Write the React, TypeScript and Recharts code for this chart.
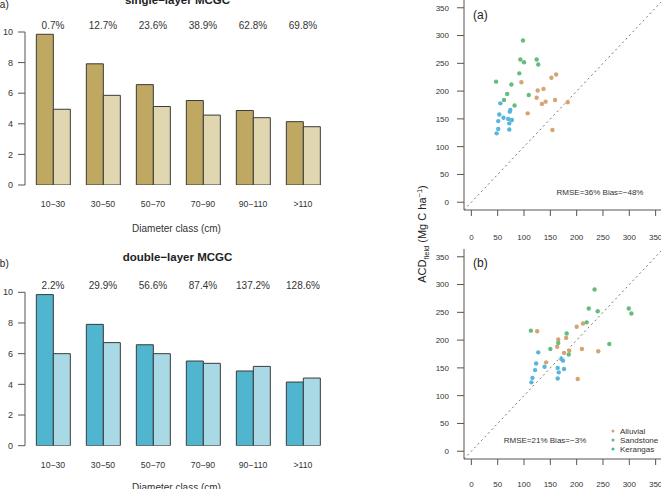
import React from 'react';
import {
  BarChart, Bar, XAxis, YAxis, ScatterChart, Scatter, ReferenceLine, Label,
} from 'recharts';

// ---------- data ----------
const CLASSES = ['10−30', '30−50', '50−70', '70−90', '90−110', '>110'];
const A_DARK = [9.85, 7.92, 6.56, 5.52, 4.87, 4.14];
const A_LIGHT = [4.95, 5.86, 5.13, 4.57, 4.4, 3.81];
const A_PCT = ['0.7%', '12.7%', '23.6%', '38.9%', '62.8%', '69.8%'];
const B_DARK = [9.85, 7.91, 6.58, 5.52, 4.87, 4.15];
const B_LIGHT = [6.0, 6.72, 6.0, 5.37, 5.17, 4.41];
const B_PCT = ['2.2%', '29.9%', '56.6%', '87.4%', '137.2%', '128.6%'];

const ALLUVIAL_FIELD = [216, 201, 204, 224, 230, 188, 177, 181, 184, 180, 160, 130];
const ALLUVIAL_A = [95, 126, 137, 152, 161, 124, 134, 141, 159, 183, 107, 154];
const ALLUVIAL_B = [125, 165, 180, 200, 212, 163, 176, 186, 210, 241, 142, 202];

const SANDSTONE_FIELD = [291, 257, 252, 257, 248, 232, 217, 212, 195, 184, 193, 174];
const SANDSTONE_A = [98, 93, 100, 124, 127, 91, 47, 76, 68, 62, 109, 82];
const SANDSTONE_B = [234, 223, 240, 299, 304, 219, 113, 181, 165, 150, 262, 185];

const KERANGAS_FIELD = [178, 166, 163, 158, 152, 146, 150, 148, 142, 132, 124, 131];
const KERANGAS_A = [55, 74, 73, 53, 61, 51, 70, 77, 72, 51, 48, 72];
const KERANGAS_B = [127, 171, 174, 123, 139, 121, 164, 176, 166, 116, 114, 164];

const BAR_TICKS = [0, 2, 4, 6, 8, 10];
const SC_TICKS = [0, 50, 100, 150, 200, 250, 300, 350];
const LEGEND_LABELS = ['Alluvial', 'Sandstone', 'Kerangas'];
const LEGEND_COLORS = ['#d6a373', '#62b97d', '#3dbaa3'];

const FONT = '"Liberation Sans", Arial, Helvetica, sans-serif';
const AXIS = '#555';
const TXT = '#333';

const COL_ALL = '#d6a373';
const COL_SAND = '#66bb7e';
const COL_KER = '#5ab5db';

const barData = (dark: number[], light: number[]) =>
  CLASSES.map((c, i) => ({ cls: c, dark: dark[i], light: light[i] }));
const pts = (xs: number[], ys: number[]) => xs.map((x, i) => ({ x, y: ys[i] }));

const dataA = barData(A_DARK, A_LIGHT);
const dataB = barData(B_DARK, B_LIGHT);

const Dot = (fill: string) => (p: any) => (
  <circle cx={p.cx} cy={p.cy} r={2.2} fill={fill} />
);

function BarPanel(props: {
  data: any[]; pct: string[]; dark: string; light: string;
  top: number; height: number; marginTop: number; xAxisH: number; labelOffset: number;
}) {
  const { data, pct, dark, light, top, height, marginTop, xAxisH, labelOffset } = props;
  return (
    <div style={{ position: 'absolute', left: 0, top, width: 340, height }}>
      <BarChart
        width={340}
        height={height}
        data={data}
        margin={{ top: marginTop, right: 12, bottom: 0, left: 0 }}
        barCategoryGap="16.67%"
        barGap={0}
        style={{ fontFamily: FONT }}
      >
        <XAxis
          dataKey="cls"
          xAxisId="bottom"
          orientation="bottom"
          height={xAxisH}
          axisLine={false}
          tickLine={false}
          tickSize={0}
          tickMargin={16}
          padding={{ left: 3, right: 0 }}
          interval={0}
          tick={{ fontSize: 8.7, fill: TXT, fontFamily: FONT }}
        >
          <Label
            value="Diameter class (cm)"
            position="insideBottom"
            offset={labelOffset}
            style={{ fontSize: 10, fill: TXT, fontFamily: FONT }}
          />
        </XAxis>
        <XAxis
          dataKey="cls"
          xAxisId="top"
          orientation="top"
          height={20}
          axisLine={false}
          tickLine={false}
          tickSize={0}
          tickMargin={3}
          padding={{ left: 3, right: 0 }}
          interval={0}
          tickFormatter={(_v: any, i: number) => pct[i]}
          tick={{ fontSize: 10, fill: TXT, fontFamily: FONT }}
        />
        <YAxis
          domain={[0, 10]}
          ticks={BAR_TICKS}
          width={25}
          tickSize={7}
          tickMargin={5}
          axisLine={{ stroke: AXIS }}
          tickLine={{ stroke: AXIS }}
          tick={{ fontSize: 9, fill: TXT, fontFamily: FONT }}
          allowDataOverflow
        />
        <Bar xAxisId="bottom" dataKey="dark" fill={dark} stroke="#3a3a3a" strokeWidth={1} isAnimationActive={false} />
        <Bar xAxisId="bottom" dataKey="light" fill={light} stroke="#3a3a3a" strokeWidth={1} isAnimationActive={false} />
      </BarChart>
    </div>
  );
}

function ScatterPanel(props: {
  top: number; height: number; marginTop: number; xAxisH: number; tickMargin: number;
  all: any[]; sand: any[]; ker: any[];
}) {
  const { top, height, marginTop, xAxisH, tickMargin, all, sand, ker } = props;
  return (
    <div style={{ position: 'absolute', left: 400, top, width: 263, height }}>
      <ScatterChart
        width={263}
        height={height}
        margin={{ top: marginTop, right: 0, bottom: 0, left: 0 }}
        style={{ fontFamily: FONT }}
      >
        <XAxis
          type="number"
          dataKey="x"
          domain={[-14, 364]}
          ticks={SC_TICKS}
          allowDataOverflow
          height={xAxisH}
          tickSize={6}
          tickMargin={tickMargin}
          axisLine={{ stroke: AXIS }}
          tickLine={{ stroke: AXIS }}
          tick={{ fontSize: 8, fill: TXT, fontFamily: FONT }}
        />
        <YAxis
          type="number"
          dataKey="y"
          domain={[-14, 364]}
          ticks={SC_TICKS}
          allowDataOverflow
          width={64}
          tickSize={7}
          tickMargin={8}
          axisLine={{ stroke: AXIS }}
          tickLine={{ stroke: AXIS }}
          tick={{ fontSize: 8, fill: TXT, fontFamily: FONT }}
        />
        <ReferenceLine
          segment={[{ x: -14, y: -14 }, { x: 364, y: 364 }]}
          stroke="#777"
          strokeDasharray="2 3"
          ifOverflow="visible"
        />
        <Scatter data={all} fill={COL_ALL} shape={Dot(COL_ALL)} isAnimationActive={false} />
        <Scatter data={sand} fill={COL_SAND} shape={Dot(COL_SAND)} isAnimationActive={false} />
        <Scatter data={ker} fill={COL_KER} shape={Dot(COL_KER)} isAnimationActive={false} />
      </ScatterChart>
    </div>
  );
}

export default function App() {
  return (
    <div
      style={{
        position: 'absolute', left: 0, top: 0, width: 661, height: 489,
        overflow: 'hidden', background: '#fff', fontFamily: FONT,
      }}
    >
      <BarPanel data={dataA} pct={A_PCT} dark="#bfa862" light="#e0d6b0"
        top={0} height={240} marginTop={12} xAxisH={55} labelOffset={8.4} />
      <BarPanel data={dataB} pct={B_PCT} dark="#50b5cf" light="#a9d9e4"
        top={240} height={260} marginTop={32.3} xAxisH={54.3} labelOffset={9.4} />

      <ScatterPanel top={0} height={245} marginTop={0} xAxisH={35} tickMargin={18}
        all={pts(ALLUVIAL_A, ALLUVIAL_FIELD)} sand={pts(SANDSTONE_A, SANDSTONE_FIELD)} ker={pts(KERANGAS_A, KERANGAS_FIELD)} />
      <ScatterPanel top={245} height={244} marginTop={4} xAxisH={30} tickMargin={16}
        all={pts(ALLUVIAL_B, ALLUVIAL_FIELD)} sand={pts(SANDSTONE_B, SANDSTONE_FIELD)} ker={pts(KERANGAS_B, KERANGAS_FIELD)} />

      <svg width={661} height={489} style={{ position: 'absolute', left: 0, top: 0, pointerEvents: 'none' }}
        fontFamily={FONT}>
        <text x={177.5} y={3.5} textAnchor="middle" fontSize={11.5} fontWeight="bold" fill="#222">single−layer MCGC</text>
        <text x={-3.5} y={8} fontSize={10} fill="#222">(a)</text>
        <text x={177.5} y={261.4} textAnchor="middle" fontSize={11.5} fontWeight="bold" fill="#222">double−layer MCGC</text>
        <text x={-3.5} y={267} fontSize={10} fill="#222">(b)</text>

        <text x={473} y={18.7} fontSize={12} fill="#222">(a)</text>
        <text x={473} y={266.7} fontSize={12} fill="#222">(b)</text>
        <text x={600} y={195} textAnchor="middle" fontSize={8} fill={TXT}>RMSE=36% Bias=−48%</text>
        <text x={545} y={443} textAnchor="middle" fontSize={8} fill={TXT}>RMSE=21% Bias=−3%</text>

        <text transform="translate(426,234) rotate(-90)" textAnchor="middle" fontSize={11} fill="#222">
          ACD<tspan fontSize={7.5} dy={2.5}>field</tspan>
          <tspan dy={-2.5}> (Mg C  ha</tspan>
          <tspan fontSize={7.5} dy={-4}>−1</tspan>
          <tspan dy={4}>)</tspan>
        </text>

        {LEGEND_LABELS.map((l, i) => (
          <g key={l}>
            <circle cx={613} cy={431 + i * 9} r={1.5} fill={LEGEND_COLORS[i]} />
            <text x={620} y={433.9 + i * 9} fontSize={8} fill={TXT}>{l}</text>
          </g>
        ))}
      </svg>
    </div>
  );
}
